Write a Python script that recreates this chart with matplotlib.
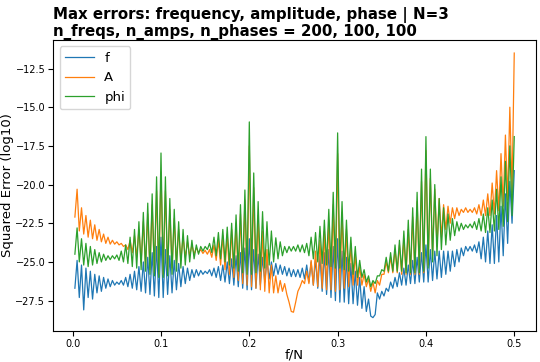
import matplotlib
matplotlib.use("Agg")
import matplotlib.pyplot as plt
import numpy as np

# f/N grid: 200 frequencies up to Nyquist
f_over_n = np.linspace(0.0025, 0.5, 200)

# log10 squared errors
err_f = [
    -26.7, -24.9, -27.3, -25.2, -28.1, -25.4, -27.3, -25.6, -27.4, -25.8,
    -27.0, -25.9, -26.9, -26.0, -26.7, -26.1, -26.6, -26.2, -26.5, -26.3,
    -26.45, -26.2, -26.5, -26.0, -26.6, -25.8, -26.7, -25.6, -26.8, -25.3,
    -26.9, -25.0, -27.0, -24.7, -27.1, -24.4, -27.2, -24.0, -27.3, -23.4,
    -27.3, -24.2, -27.1, -24.6, -27.0, -24.9, -26.8, -25.1, -26.6, -25.3,
    -26.4, -25.4, -26.2, -25.5, -26.0, -25.5, -25.9, -25.55, -25.8, -25.6,
    -25.75, -25.5, -25.9, -25.4, -26.0, -25.3, -26.2, -25.2, -26.3, -25.0,
    -26.4, -24.8, -26.5, -24.6, -26.6, -24.4, -26.7, -24.1, -26.8, -23.5,
    -26.8, -24.2, -26.7, -24.5, -26.5, -24.7, -26.3, -24.9, -26.1, -25.0,
    -25.9, -25.1, -25.8, -25.2, -25.8, -25.3, -25.9, -25.4, -25.95, -25.5,
    -25.95, -25.5, -26.0, -25.4, -26.1, -25.2, -26.3, -25.0, -26.5, -24.8,
    -26.7, -24.6, -26.9, -24.4, -27.1, -24.2, -27.3, -24.0, -27.5, -23.5,
    -27.6, -24.3, -27.6, -24.7, -27.7, -25.1, -27.7, -25.6, -27.8, -26.0,
    -28.0, -26.6, -28.2, -27.4, -28.5, -28.6, -28.4, -27.0, -27.4, -26.9,
    -27.2, -26.7, -26.9, -26.3, -26.7, -26.0, -26.6, -25.7, -26.5, -25.4,
    -26.5, -25.2, -26.4, -24.9, -26.4, -24.7, -26.3, -24.4, -26.3, -23.9,
    -26.3, -24.2, -26.2, -24.3, -26.1, -24.3, -26.0, -24.3, -25.8, -24.3,
    -25.6, -24.3, -25.3, -24.2, -25.0, -24.1, -24.6, -24.0, -24.3, -24.0,
    -24.3, -23.9, -24.4, -23.7, -24.8, -23.4, -25.0, -23.0, -25.1, -22.6,
    -25.1, -22.0, -25.0, -21.4, -24.6, -20.6, -23.8, -19.8, -22.5, -19.1,
]

err_a = [
    -22.1, -20.3, -23.0, -21.5, -23.2, -22.0, -23.4, -22.3, -23.5, -22.6,
    -23.6, -22.9, -23.7, -23.2, -23.8, -23.4, -23.85, -23.6, -23.85, -23.7,
    -23.9, -23.8, -24.0, -23.9, -24.2, -23.6, -24.4, -23.3, -24.7, -22.9,
    -25.0, -22.4, -25.3, -21.9, -25.5, -21.3, -25.7, -20.4, -25.8, -19.2,
    -25.8, -20.4, -25.6, -21.6, -25.4, -22.2, -25.1, -22.9, -24.9, -23.4,
    -24.7, -23.7, -24.6, -23.9, -24.5, -24.1, -24.4, -24.2, -24.45, -24.25,
    -24.5, -24.2, -24.7, -23.9, -24.9, -23.6, -25.2, -23.3, -25.5, -23.2,
    -25.8, -22.9, -26.0, -22.5, -26.2, -21.9, -26.4, -21.0, -26.5, -17.5,
    -26.6, -20.2, -26.7, -22.0, -26.8, -23.0, -26.9, -24.2, -27.0, -25.2,
    -27.0, -25.9, -27.0, -26.2, -26.9, -26.4, -27.1, -27.6, -28.2, -28.25,
    -27.6, -26.9, -26.6, -26.2, -26.4, -25.6, -26.4, -24.9, -26.5, -24.3,
    -26.6, -23.6, -26.7, -23.0, -26.8, -22.3, -26.8, -21.3, -26.9, -18.0,
    -26.8, -21.8, -26.7, -22.9, -26.6, -23.8, -26.5, -24.5, -26.5, -25.3,
    -26.5, -25.8, -26.6, -26.1, -26.9, -26.3, -27.0, -26.2, -26.5, -25.8,
    -25.8, -25.0, -25.7, -24.7, -25.7, -24.2, -25.7, -23.9, -25.8, -23.5,
    -25.8, -22.9, -25.8, -22.1, -25.8, -21.1, -25.8, -19.8, -25.7, -17.8,
    -25.2, -19.6, -24.6, -20.3, -24.0, -20.9, -23.4, -21.3, -22.9, -21.4,
    -22.5, -21.5, -22.2, -21.5, -22.0, -21.6, -21.8, -21.5, -21.8, -21.6,
    -21.8, -21.5, -21.9, -21.3, -22.0, -21.0, -22.0, -20.6, -22.0, -19.9,
    -21.9, -19.1, -21.7, -18.0, -21.4, -16.8, -21.0, -15.0, -20.5, -11.5,
]

err_phi = [
    -24.5, -22.8, -25.0, -23.5, -25.2, -23.8, -25.3, -24.0, -25.2, -24.2,
    -25.1, -24.4, -25.0, -24.5, -24.9, -24.6, -24.85, -24.6, -24.8, -24.55,
    -24.9, -24.3, -25.0, -23.9, -25.1, -23.4, -25.3, -22.9, -25.4, -22.4,
    -25.5, -21.8, -25.6, -21.2, -25.8, -20.6, -25.9, -19.5, -26.0, -17.96,
    -26.0, -19.5, -25.9, -20.9, -25.8, -21.6, -25.6, -22.4, -25.4, -22.9,
    -25.2, -23.3, -25.0, -23.6, -24.8, -23.9, -24.5, -24.0, -24.3, -24.0,
    -24.2, -23.8, -24.4, -23.4, -24.6, -23.1, -24.8, -22.9, -25.0, -22.75,
    -25.2, -22.5, -25.4, -21.96, -25.6, -21.3, -25.7, -20.35, -25.8, -15.95,
    -25.8, -19.25, -25.7, -21.1, -25.6, -21.75, -25.4, -22.4, -25.2, -23.0,
    -25.0, -23.44, -24.8, -23.7, -24.6, -24.0, -24.4, -24.0, -24.3, -24.0,
    -24.3, -23.9, -24.35, -23.9, -24.4, -23.8, -24.6, -23.4, -24.8, -23.1,
    -25.0, -22.7, -25.1, -22.3, -25.2, -21.6, -25.3, -20.5, -25.4, -16.66,
    -25.4, -21.1, -25.5, -22.3, -25.6, -23.4, -25.8, -24.0, -26.0, -24.9,
    -26.0, -25.5, -26.3, -25.9, -26.6, -26.2, -26.4, -25.9, -25.9, -25.5,
    -25.6, -24.7, -25.6, -24.4, -25.6, -23.9, -25.6, -23.6, -25.6, -23.0,
    -25.7, -22.3, -25.7, -21.5, -25.7, -20.5, -25.7, -19.0, -25.6, -16.9,
    -25.4, -19.0, -25.0, -20.0, -24.6, -20.9, -24.2, -21.5, -23.9, -21.9,
    -23.6, -22.2, -23.3, -22.4, -23.0, -22.5, -22.9, -22.6, -22.8, -22.55,
    -22.8, -22.4, -22.9, -22.2, -23.0, -21.9, -23.1, -21.5, -23.1, -21.0,
    -23.0, -20.3, -22.9, -19.5, -22.7, -18.5, -22.4, -17.5, -22.0, -16.9,
]

fig = plt.figure(figsize=(5.4, 3.62), dpi=100)
ax = fig.add_axes([0.098, 0.086, 0.895, 0.804])

ax.plot(f_over_n, err_f, lw=0.9, label="f")
ax.plot(f_over_n, err_a, lw=0.9, label="A")
ax.plot(f_over_n, err_phi, lw=0.9, label="phi")

ax.set_title("Max errors: frequency, amplitude, phase | N=3\n"
             "n_freqs, n_amps, n_phases = 200, 100, 100",
             loc="left", fontsize=10.8, fontweight="bold", pad=3,
             linespacing=1.05)
ax.set_xlabel("f/N", fontsize=9.5, labelpad=0)
ax.set_ylabel("Squared Error (log10)", fontsize=9.5, labelpad=1)
ax.tick_params(labelsize=7, pad=2)
ax.legend(loc="upper left", fontsize=9.5, handlelength=2.2)

fig.savefig("out.png", dpi=100)
